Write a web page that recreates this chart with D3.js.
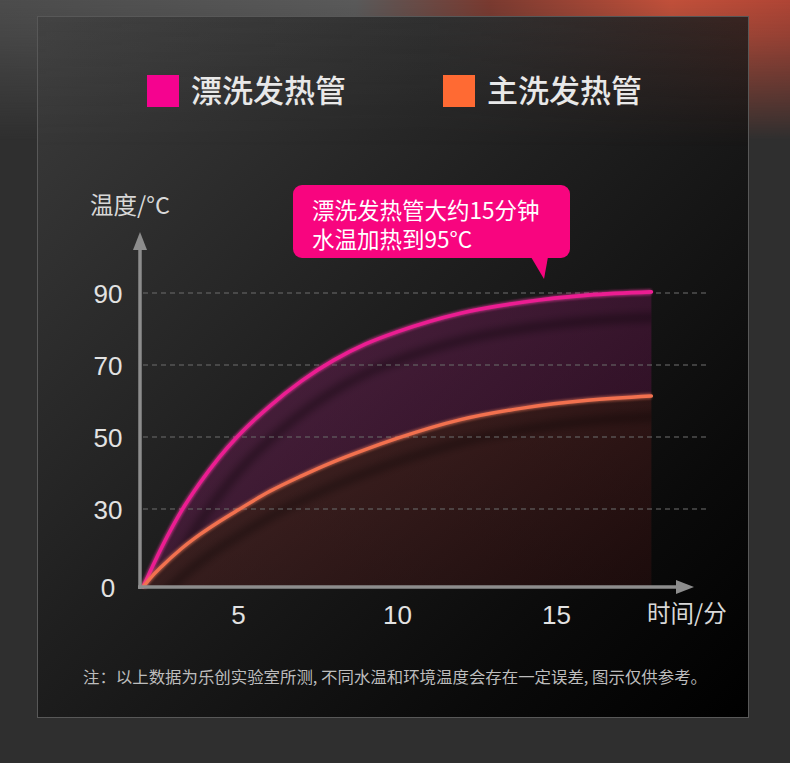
<!DOCTYPE html>
<html><head><meta charset="utf-8">
<script src="https://cdn.jsdelivr.net/npm/d3@7"></script>
<style>
html,body{margin:0;padding:0;background:#2f2f2f;}
svg{display:block;}
</style></head>
<body>
<svg id="chart" width="790" height="763"></svg>
<script>
// ---- data ----
const times = [0, 0.5, 1, 2, 3, 4, 5, 6, 7, 8, 9, 10, 12, 14, 16, 18];
const rinseTemps = [0, 7.9, 15.5, 29, 37.3, 44.3, 50.3, 58.6, 65.6, 71.3, 75.8, 79.2, 84.4, 87.5, 89.4, 90.3];
const washTemps  = [0, 4.3, 8.0, 14.6, 20.2, 25.1, 29.6, 34.9, 39.2, 43.1, 46.5, 49.6, 54.8, 58.1, 60.2, 61.4];
const seriesNames = ["漂洗发热管", "主洗发热管"];
const yTickValues = [0, 30, 50, 70, 90];
const gridValues = [30, 50, 70, 90];
const xTickValues = [5, 10, 15];
const yAxisTitle = "温度/°C";
const xAxisTitle = "时间/分";
const calloutLines = ["漂洗发热管大约15分钟", "水温加热到95°C"];
const footnote = "注：以上数据为乐创实验室所测, 不同水温和环境温度会存在一定误差, 图示仅供参考。";

const W = 790, H = 763;
const svg = d3.select("#chart");
const defs = svg.append("defs");

// ---- background ----
const topGrad = defs.append("linearGradient").attr("id","topGrad").attr("x1",0).attr("x2",1).attr("y1",0).attr("y2",0);
topGrad.append("stop").attr("offset","0").attr("stop-color","#4c4c4c");
topGrad.append("stop").attr("offset","0.45").attr("stop-color","#5a5a5a");
topGrad.append("stop").attr("offset","0.62").attr("stop-color","#7a3a30");
topGrad.append("stop").attr("offset","0.85").attr("stop-color","#c2503a");
topGrad.append("stop").attr("offset","1").attr("stop-color","#b04535");
const fadeGrad = defs.append("linearGradient").attr("id","fadeGrad").attr("x1",0).attr("x2",0).attr("y1",0).attr("y2",1);
fadeGrad.append("stop").attr("offset","0").attr("stop-color","#fff").attr("stop-opacity",1);
fadeGrad.append("stop").attr("offset","0.25").attr("stop-color","#fff").attr("stop-opacity",0.8);
fadeGrad.append("stop").attr("offset","1").attr("stop-color","#fff").attr("stop-opacity",0);
defs.append("mask").attr("id","fadeMask").append("rect").attr("x",0).attr("y",0).attr("width",W).attr("height",140).attr("fill","url(#fadeGrad)");

svg.append("rect").attr("width",W).attr("height",H).attr("fill","#2f2f2f");
svg.append("rect").attr("width",W).attr("height",140).attr("fill","url(#topGrad)").attr("mask","url(#fadeMask)");

// panel
const panelGrad = defs.append("linearGradient").attr("id","panelGrad").attr("x1",0).attr("y1",0).attr("x2",1).attr("y2",1);
panelGrad.append("stop").attr("offset","0").attr("stop-color","#3c3c3c");
panelGrad.append("stop").attr("offset","0.45").attr("stop-color","#1f1f1f");
panelGrad.append("stop").attr("offset","0.8").attr("stop-color","#0a0a0a");
panelGrad.append("stop").attr("offset","1").attr("stop-color","#000");
svg.append("rect").attr("x",37.5).attr("y",16.5).attr("width",711).attr("height",701)
  .attr("fill","url(#panelGrad)").attr("stroke","#585858").attr("stroke-width",1);
const tintGrad = defs.append("linearGradient").attr("id","tintGrad").attr("x1",0).attr("x2",1).attr("y1",0).attr("y2",0);
tintGrad.append("stop").attr("offset","0").attr("stop-color","#777").attr("stop-opacity",0.12);
tintGrad.append("stop").attr("offset","0.55").attr("stop-color","#666").attr("stop-opacity",0.1);
tintGrad.append("stop").attr("offset","1").attr("stop-color","#a04030").attr("stop-opacity",0.22);
const fade2 = defs.append("linearGradient").attr("id","fade2").attr("x1",0).attr("x2",0).attr("y1",0).attr("y2",1);
fade2.append("stop").attr("offset","0").attr("stop-color","#fff").attr("stop-opacity",1);
fade2.append("stop").attr("offset","1").attr("stop-color","#fff").attr("stop-opacity",0);
defs.append("mask").attr("id","fade2Mask").append("rect").attr("x",38).attr("y",17).attr("width",710).attr("height",130).attr("fill","url(#fade2)");
svg.append("rect").attr("x",38).attr("y",17).attr("width",710).attr("height",130).attr("fill","url(#tintGrad)").attr("mask","url(#fade2Mask)");

// ---- scales ----
const x = d3.scaleLinear().domain([0, 5, 10, 15]).range([143, 238, 397, 556]);
const y = d3.scaleLinear().domain([0, 30, 50, 70, 90]).range([587, 509, 437, 365, 293]);

const pts = times.map((t,i)=>({t, r:rinseTemps[i], w:washTemps[i]}));

// ---- fills ----
const magGrad = defs.append("linearGradient").attr("id","magGrad").attr("x1",0).attr("x2",1).attr("y1",0).attr("y2",1);
magGrad.append("stop").attr("offset","0").attr("stop-color","#8a1e6a").attr("stop-opacity",0.42);
magGrad.append("stop").attr("offset","1").attr("stop-color","#5a1040").attr("stop-opacity",0.35);
const orGrad = defs.append("linearGradient").attr("id","orGrad").attr("x1",0).attr("x2",1).attr("y1",0).attr("y2",1);
orGrad.append("stop").attr("offset","0").attr("stop-color","#7a2a2a").attr("stop-opacity",0.45);
orGrad.append("stop").attr("offset","1").attr("stop-color","#4a1414").attr("stop-opacity",0.3);

const areaTop = d3.area().x(d=>x(d.t)).y0(d=>y(d.w)).y1(d=>y(d.r)).curve(d3.curveMonotoneX);
const areaBot = d3.area().x(d=>x(d.t)).y0(y(0)).y1(d=>y(d.w)).curve(d3.curveMonotoneX);
const lineR = d3.line().x(d=>x(d.t)).y(d=>y(d.r)).curve(d3.curveMonotoneX);
const lineW = d3.line().x(d=>x(d.t)).y(d=>y(d.w)).curve(d3.curveMonotoneX);

defs.append("clipPath").attr("id","clipTop").append("path").attr("d",areaTop(pts));
defs.append("clipPath").attr("id","clipBot").append("path").attr("d",areaBot(pts));
const blur = defs.append("filter").attr("id","blur").attr("x","-20%").attr("y","-20%").attr("width","140%").attr("height","140%");
blur.append("feGaussianBlur").attr("stdDeviation",4);
const glow = defs.append("filter").attr("id","glow").attr("x","-10%").attr("y","-10%").attr("width","120%").attr("height","120%");
glow.append("feGaussianBlur").attr("stdDeviation",1.2);

svg.append("path").attr("d",areaTop(pts)).attr("fill","url(#magGrad)");
svg.append("path").attr("d",areaBot(pts)).attr("fill","url(#orGrad)");

// inner shadow bands
svg.append("g").attr("clip-path","url(#clipTop)")
  .append("path").attr("d",lineR(pts)).attr("fill","none").attr("stroke","#000").attr("stroke-opacity",0.5)
  .attr("stroke-width",6).attr("filter","url(#blur)").attr("transform","translate(10,25)");
svg.append("g").attr("clip-path","url(#clipBot)")
  .append("path").attr("d",lineW(pts)).attr("fill","none").attr("stroke","#000").attr("stroke-opacity",0.45)
  .attr("stroke-width",6).attr("filter","url(#blur)").attr("transform","translate(10,20)");

// ---- grid ----
svg.append("g").selectAll("line").data(gridValues).join("line")
  .attr("x1",143).attr("x2",710).attr("y1",d=>y(d)).attr("y2",d=>y(d))
  .attr("stroke","#666").attr("stroke-opacity",0.75).attr("stroke-width",1.3).attr("stroke-dasharray","5,4");

// ---- lines ----
svg.append("path").attr("d",lineR(pts)).attr("fill","none").attr("stroke","#ff3aa8").attr("stroke-opacity",0.5)
  .attr("stroke-width",6).attr("filter","url(#glow)");
svg.append("path").attr("d",lineR(pts)).attr("fill","none").attr("stroke","#ec1d92").attr("stroke-width",3.6).attr("stroke-linecap","round");
svg.append("path").attr("d",lineW(pts)).attr("fill","none").attr("stroke","#ff8060").attr("stroke-opacity",0.45)
  .attr("stroke-width",6).attr("filter","url(#glow)");
svg.append("path").attr("d",lineW(pts)).attr("fill","none").attr("stroke","#f2714f").attr("stroke-width",3.4).attr("stroke-linecap","round");

// ---- axes ----
const axisColor = "#8d8d8d";
svg.append("line").attr("x1",140).attr("x2",140).attr("y1",589).attr("y2",246).attr("stroke",axisColor).attr("stroke-width",3.5);
svg.append("path").attr("d","M140,232 L133,250 L147,250 Z").attr("fill",axisColor);
svg.append("line").attr("x1",138).attr("x2",680).attr("y1",587).attr("y2",587).attr("stroke",axisColor).attr("stroke-width",3.5);
svg.append("path").attr("d","M694,587 L676,580 L676,594 Z").attr("fill",axisColor);

const numFont = "'Liberation Sans', Arial, sans-serif";
const yAx = svg.append("g").attr("transform","translate(108,0)")
  .call(d3.axisLeft(y).tickValues(yTickValues).tickSize(0).tickPadding(0).tickFormat(d3.format("d")));
yAx.select(".domain").remove();
yAx.selectAll("text").attr("text-anchor","middle").attr("x",0).attr("dy","0.36em")
  .attr("fill","#e2e2e2").style("font-family",numFont).style("font-size","26px");

const xAx = svg.append("g").attr("transform","translate(0,602)")
  .call(d3.axisBottom(x).tickValues(xTickValues).tickSize(0).tickPadding(0).tickFormat(d3.format("d")));
xAx.select(".domain").remove();
xAx.selectAll("text").attr("dy","0.75em").attr("y",2)
  .attr("fill","#e2e2e2").style("font-family",numFont).style("font-size","26px");

const cjk = "'Noto Sans CJK SC', 'Noto Sans', sans-serif";
svg.append("text").attr("x",90).attr("y",214).text(yAxisTitle)
  .attr("fill","#d8d8d8").style("font-family",cjk).style("font-size","23.5px");
svg.append("text").attr("x",647).attr("y",622).text(xAxisTitle)
  .attr("fill","#d8d8d8").style("font-family",cjk).style("font-size","23.5px");

// ---- legend ----
const legendColors = ["#f5038f", "#ff6a33"];
const legendX = [147, 443];
seriesNames.forEach((n,i)=>{
  svg.append("rect").attr("x",legendX[i]).attr("y",75).attr("width",32).attr("height",32).attr("fill",legendColors[i]);
  svg.append("text").attr("x",legendX[i]+44).attr("y",102).text(n)
    .attr("fill","#e8e8e8").style("font-family",cjk).style("font-size","31px").style("font-weight","500");
});

// ---- callout ----
const calloutColor = "#f8057f";
svg.append("rect").attr("x",293).attr("y",185).attr("width",277).attr("height",73).attr("rx",9).attr("fill",calloutColor);
svg.append("path").attr("d","M531,257 L544,279 L548,257 Z").attr("fill",calloutColor);
const co = svg.append("text").attr("fill","#fff").style("font-family",cjk).style("font-size","22.5px");
calloutLines.forEach((l,i)=>{
  co.append("tspan").attr("x",312).attr("y",219 + i*29).text(l);
});

// ---- footnote ----
svg.append("text").attr("x",83).attr("y",683).text(footnote)
  .attr("fill","#bdbdbd").style("font-family",cjk).style("font-size","15.5px")
  .attr("textLength",624).attr("lengthAdjust","spacingAndGlyphs");
</script>
</body></html>
